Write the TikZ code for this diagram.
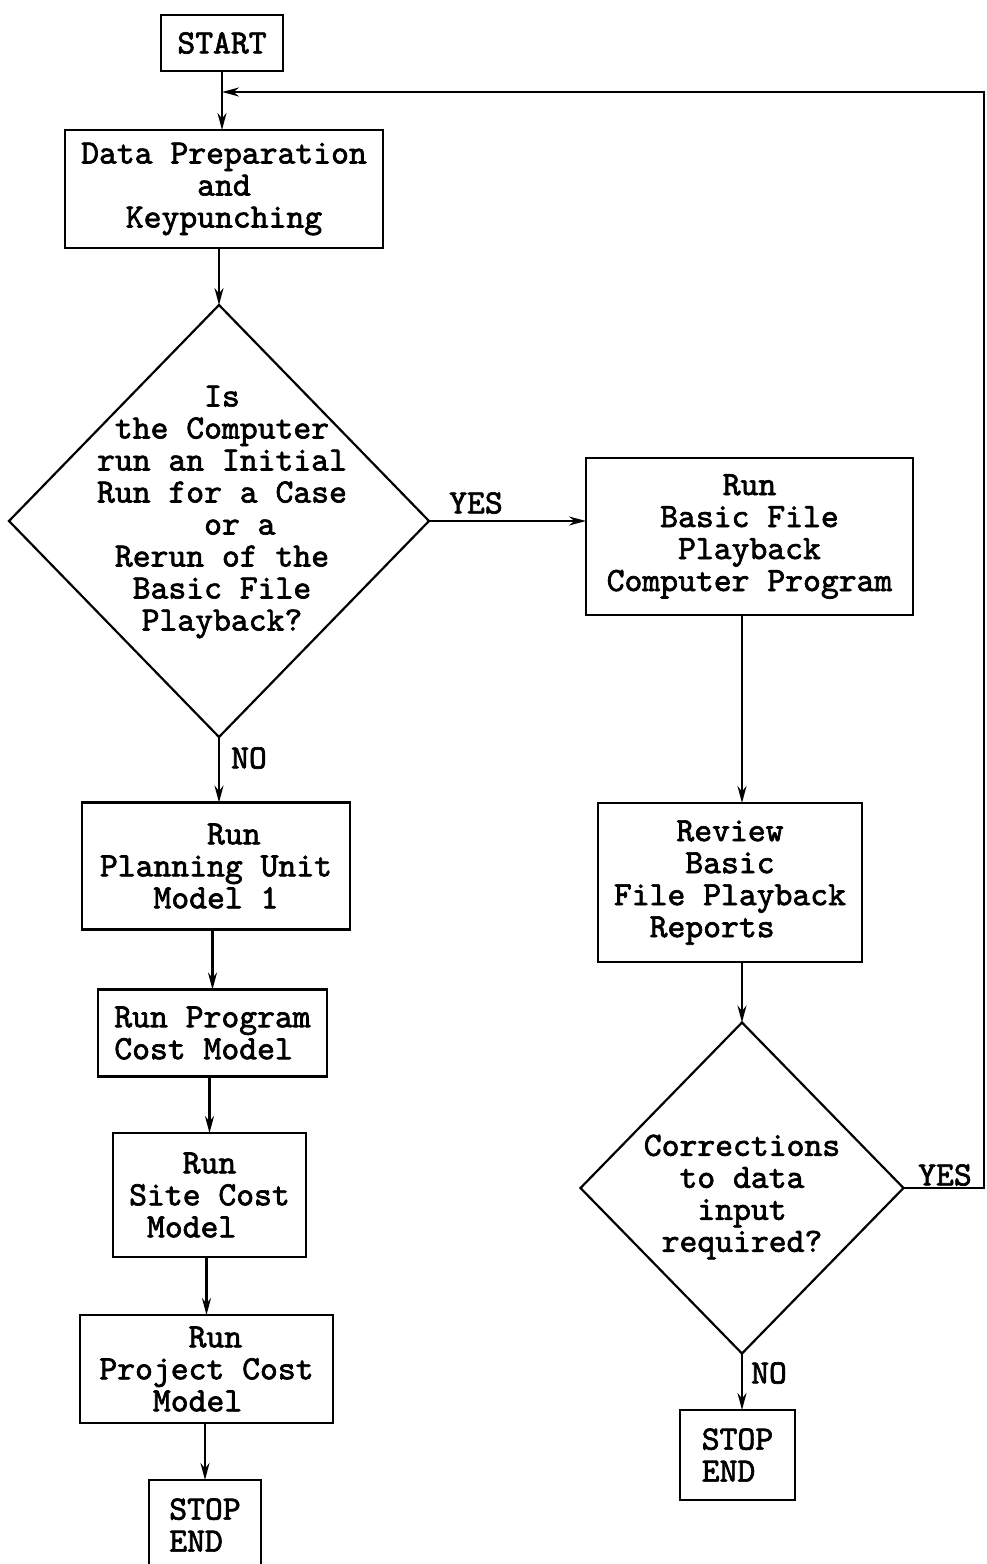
\documentclass[tikz,border=0pt]{standalone}
\usepackage{fontspec}
\setmonofont[AutoFakeBold=2]{lmmono10-regular.otf}
\usetikzlibrary{shapes.geometric,arrows.meta}
\tikzset{
  tt/.style={font=\ttfamily\bfseries\fontsize{34}{32}\selectfont},
  box/.style={tt,draw,line width=2.2pt,inner sep=0pt,outer sep=0pt,align=center},
  decision/.style={draw,diamond,line width=2.2pt,inner sep=0pt,outer sep=0pt},
  qtext/.style={tt,align=center,inner sep=0pt},
  flow/.style={line width=2.2pt,-{Stealth[length=17pt,width=9pt]}},
  lbl/.style={tt,inner sep=0pt},
}
\begin{document}
\begin{tikzpicture}[x=1pt,y=-1pt]
\clip (0,0) rectangle (987,1564);
\fill[white] (0,0) rectangle (987,1564);

% left column
\node[box,minimum width=122pt,minimum height=56pt] (start) at (222,43) {START};
\node[box,minimum width=318pt,minimum height=118pt] (prep) at (224,189)
  {Data Preparation\\and\\Keypunching};
\node[decision,minimum width=420pt,minimum height=432pt] (d1) at (219,521) {};
\node[qtext] (d1t) at (222,512)
  {Is\\the Computer\\run an Initial\\Run for a Case\\\phantom{xx}or a\\Rerun of the\\Basic File\\Playback?};
\node[box,minimum width=268pt,minimum height=127pt] (plan) at (216,866)
  {\phantom{xx}Run\\Planning Unit\\Model 1};
\node[box,align=left,minimum width=229pt,minimum height=87pt] (cost) at (212.5,1033)
  {Run Program\\Cost Model};
\node[box,minimum width=193pt,minimum height=124pt] (site) at (209.5,1195)
  {Run\\Site Cost\\Model\phantom{xx}};
\node[box,minimum width=253pt,minimum height=108pt] (proj) at (206.5,1369)
  {\phantom{x}Run\\Project Cost\\Model\phantom{x}};
\node[box,minimum width=112pt,minimum height=90pt] (stopL) at (205,1525)
  {STOP\\END\phantom{x}};

% right column
\node[box,minimum width=327pt,minimum height=157pt] (bfp) at (749.5,536.5)
  {Run\\Basic File\\Playback\\Computer Program};
\node[box,minimum width=264pt,minimum height=159pt] (review) at (730,882.5)
  {Review\\Basic\\File Playback\\Reports\phantom{xx}};
\node[decision,minimum width=323pt,minimum height=331pt] (d2) at (742,1188) {};
\node[qtext] (d2t) at (742,1197)
  {Corrections\\to data\\input\\required?};
\node[box,minimum width=115pt,minimum height=90pt] (stopR) at (737.5,1455)
  {STOP\\END\phantom{x}};

% branch labels
\node[lbl] (yes1) at (476,503) {YES};
\node[lbl] (no1) at (249,758) {NO};
\node[lbl] (yes2) at (945,1175) {YES};
\node[lbl] (no2) at (769,1373) {NO};

% main flow
\draw[flow] (start.south) -- (start.south |- prep.north);
\draw[flow] (prep.south -| d1.north) -- (d1.north);
\draw[flow] (d1.east) -- (d1.east -| bfp.west);
\draw[flow] (d1.south) -- (d1.south |- plan.north);
\draw[flow] (cost.north |- plan.south) -- (cost.north);
\draw[flow] (site.north |- cost.south) -- (site.north);
\draw[flow] (proj.north |- site.south) -- (proj.north);
\draw[flow] (stopL.north |- proj.south) -- (stopL.north);
\draw[flow] (bfp.south -| d2.north) -- (review.north -| d2.north);
\draw[flow] (review.south -| d2.north) -- (d2.north);
\draw[flow] (d2.south) -- (d2.south |- stopR.north);

% loop back for corrections
\coordinate (fbB) at (984,92);
\coordinate (fbJ) at (222,92);
\draw[flow] (d2.east) -- (d2.east -| fbB) -- (fbB) -- (fbJ);
\end{tikzpicture}
\end{document}
